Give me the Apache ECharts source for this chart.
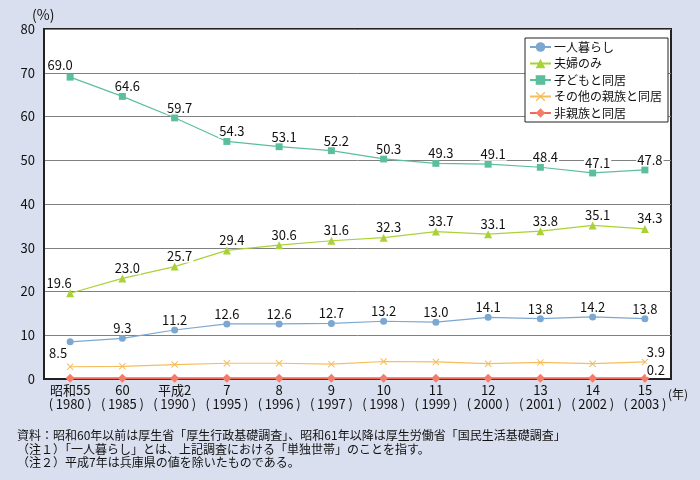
<!DOCTYPE html>
<html><head><meta charset="utf-8">
<script src="https://cdn.jsdelivr.net/npm/echarts@6/dist/echarts.min.js"></script>
<style>html,body{margin:0;padding:0;background:#d9dfee;}#c{width:700px;height:480px;}</style>
</head><body><div id="c"></div>
<script>
const categories = ['昭和55\n(\u20091980\u2009)', '60\n(\u20091985\u2009)', '平成2\n(\u20091990\u2009)', '7\n(\u20091995\u2009)', '8\n(\u20091996\u2009)', '9\n(\u20091997\u2009)', '10\n(\u20091998\u2009)', '11\n(\u20091999\u2009)', '12\n(\u20092000\u2009)', '13\n(\u20092001\u2009)', '14\n(\u20092002\u2009)', '15\n(\u20092003\u2009)'];
const seriesNames = ['一人暮らし', '夫婦のみ', '子どもと同居', 'その他の親族と同居', '非親族と同居'];
const livingAlone = [8.5, 9.3, 11.2, 12.6, 12.6, 12.7, 13.2, 13.0, 14.1, 13.8, 14.2, 13.8];
const coupleOnly = [19.6, 23.0, 25.7, 29.4, 30.6, 31.6, 32.3, 33.7, 33.1, 33.8, 35.1, 34.3];
const withChildren = [69.0, 64.6, 59.7, 54.3, 53.1, 52.2, 50.3, 49.3, 49.1, 48.4, 47.1, 47.8];
const withOtherRelatives = [2.8, 2.9, 3.3, 3.6, 3.6, 3.4, 4.0, 3.9, 3.5, 3.8, 3.5, 3.9];
const withNonRelatives = [0.2, 0.2, 0.2, 0.2, 0.2, 0.2, 0.2, 0.2, 0.2, 0.2, 0.2, 0.2];
const yTicks = { min: 0, max: 80, interval: 10 };
const footnotes = [
  '資料：昭和60年以前は厚生省「厚生行政基礎調査」、昭和61年以降は厚生労働省「国民生活基礎調査」',
  '（注１）「一人暮らし」とは、上記調査における「単独世帯」のことを指す。',
  '（注２）平成7年は兵庫県の値を除いたものである。'
];

const FONT = '"Noto Sans CJK JP", sans-serif';
const colors = ['#7ba7d1', '#aad236', '#5cbf9c', '#f6bd5e', '#f47d69'];
const xPath = 'path://M0,1 L1,0 L5,4 L9,0 L10,1 L6,5 L10,9 L9,10 L5,6 L1,10 L0,9 L4,5 Z';

function makeData(values, overrides) {
  return values.map((v, i) => overrides[i] ? { value: v, label: overrides[i] } : v);
}
const baseLabel = (show, offset) => ({
  show: show, position: 'top', distance: 0, offset: offset,
  formatter: p => Number(p.value).toFixed(1),
  color: '#111', fontSize: 13, fontFamily: FONT,
  backgroundColor: '#fff', padding: [0, 1]
});
const last = livingAlone.length - 1;

const option = {
  backgroundColor: '#d9dfee',
  animation: false,
  textStyle: { fontFamily: FONT },
  grid: { left: 44, right: 29, top: 29, bottom: 101, show: true, backgroundColor: '#fff', borderColor: '#222', borderWidth: 2 },
  legend: {
    orient: 'vertical', left: 525, top: 38, width: 140,
    backgroundColor: '#fff', borderColor: '#222', borderWidth: 1,
    padding: [3, 6, 3, 4], itemGap: 4.5, itemWidth: 21, itemHeight: 12,
    textStyle: { fontSize: 12, color: '#111', fontFamily: FONT, padding: [0, 0, 0, -2] },
    data: seriesNames
  },
  xAxis: {
    type: 'category', data: categories, boundaryGap: true,
    axisLine: { lineStyle: { color: '#222', width: 2 } },
    axisTick: { inside: true, length: 4, lineStyle: { color: '#222' } },
    axisLabel: { margin: 4, fontSize: 13, lineHeight: 14, color: '#111', fontFamily: FONT, interval: 0 },
    splitLine: { show: false }
  },
  yAxis: {
    type: 'value', min: yTicks.min, max: yTicks.max, interval: yTicks.interval,
    axisLine: { show: true, lineStyle: { color: '#222', width: 2 } },
    axisTick: { show: false },
    axisLabel: { margin: 9, fontSize: 13, color: '#111', fontFamily: FONT },
    splitLine: { lineStyle: { color: '#808080', width: 1 } }
  },
  graphic: [
    { type: 'text', left: 32, top: 8, style: { text: '(%)', fontSize: 14, fill: '#111', fontFamily: FONT } },
    { type: 'text', left: 668, top: 388, style: { text: '(年)', fontSize: 12, fill: '#111', fontFamily: FONT } },
    { type: 'text', left: 17, top: 429, style: { text: footnotes.join('\n'), fontSize: 12, lineHeight: 13.5, fill: '#111', fontFamily: FONT } }
  ],
  series: [
    {
      name: seriesNames[0], type: 'line', symbol: 'circle', symbolSize: 7,
      lineStyle: { width: 1.2, color: colors[0] }, itemStyle: { color: colors[0] },
      label: baseLabel(true, [0, 0]),
      data: makeData(livingAlone, { 0: { position: 'bottom', distance: 1, offset: [-12, 0] } })
    },
    {
      name: seriesNames[1], type: 'line', symbol: 'triangle', symbolSize: 8,
      lineStyle: { width: 1.2, color: colors[1] }, itemStyle: { color: colors[1] },
      label: baseLabel(true, [5, 0]),
      data: makeData(coupleOnly, { 0: { offset: [-11, 0] } })
    },
    {
      name: seriesNames[2], type: 'line', symbol: 'rect', symbolSize: 7,
      lineStyle: { width: 1.2, color: colors[2] }, itemStyle: { color: colors[2] },
      label: baseLabel(true, [5, 0]),
      data: makeData(withChildren, { 0: { offset: [-10, -2] } })
    },
    {
      name: seriesNames[3], type: 'line', symbol: xPath, symbolSize: 7,
      lineStyle: { width: 1.2, color: colors[3] }, itemStyle: { color: colors[3] },
      label: baseLabel(false, [11, 0]),
      data: makeData(withOtherRelatives, { [last]: { show: true, offset: [11, 0] } })
    },
    {
      name: seriesNames[4], type: 'line', symbol: 'diamond', symbolSize: 9,
      lineStyle: { width: 2, color: '#f26a55' }, itemStyle: { color: colors[4] },
      label: baseLabel(false, [11, 3]),
      data: makeData(withNonRelatives, { [last]: { show: true, offset: [11, 3] } })
    }
  ]
};
const chart = echarts.init(document.getElementById('c'), null, { renderer: 'canvas' });
chart.setOption(option);
</script>
</body></html>
